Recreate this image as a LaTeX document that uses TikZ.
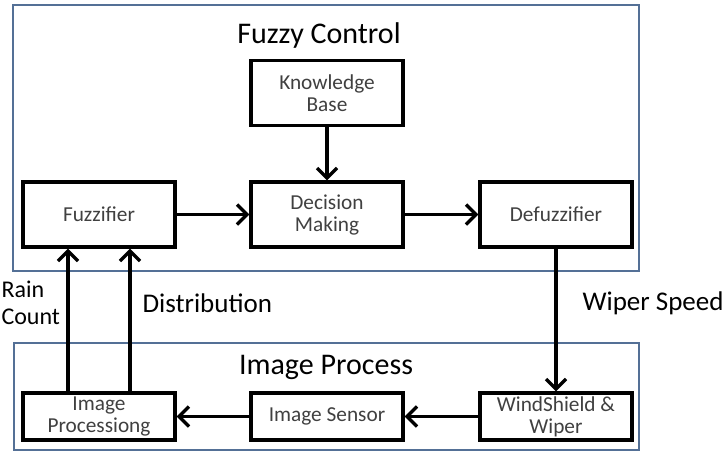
\documentclass[tikz,border=0pt]{standalone}
\usepackage{fontspec}
\setmainfont{Carlito}
\usetikzlibrary{arrows.meta}

\definecolor{framecol}{RGB}{84,112,150}
\definecolor{boxtext}{RGB}{64,64,64}

\begin{document}
\begin{tikzpicture}[x=1pt,y=-1pt,
    block/.style={rectangle,draw,line width=3.2pt,inner sep=0pt,minimum width=152pt,
      align=center,text=boxtext,font=\fontsize{21.3}{22}\selectfont},
    tall/.style={block,minimum height=65pt},
    short/.style={block,minimum height=47pt},
    frame/.style={draw=framecol,line width=2.8pt},
    title/.style={font=\fontsize{30}{32}\selectfont},
    flow/.style={font=\fontsize{27}{27}\selectfont},
    >={Straight Barb[length=10pt,width=20pt]},
    arr/.style={->,line width=3.4pt}]

\useasboundingbox (0,0) rectangle (725,453);

% frames
\draw[frame] (13,5) rectangle (639,271);
\draw[frame] (14,343) rectangle (639,450);
\node[title] (fc) at (319,35) {Fuzzy Control};
\node[title] (ip) at (326,367) {Image Process};

% fuzzy control blocks
\node[tall] (kb)  at (327,93)    {Knowledge\\Base};
\node[tall] (fuz) at (99,214.5)  {Fuzzifier};
\node[tall] (dm)  at (327,214.5) {Decision\\Making};
\node[tall] (def) at (556,214.5) {Defuzzifier};

% image process blocks
\node[short] (proc) at (99,416.5)  {Image\\Processiong};
\node[short] (sens) at (327,416.5) {Image Sensor};
\node[short] (wind) at (556,416.5) {WindShield \&\\Wiper};

% connectors
\draw[arr] (kb) -- (dm);
\draw[arr] (fuz) -- (dm);
\draw[arr] (dm) -- (def);
\draw[arr] (def) -- (wind);
\draw[arr] (wind) -- (sens);
\draw[arr] (sens) -- (proc);
\draw[arr] (proc.north -| 68,0) -- (fuz.south -| 68,0);
\draw[arr] (proc.north -| 130,0) -- (fuz.south -| 130,0);

% signal labels
\node[flow,align=left,anchor=west,font=\fontsize{24}{27}\selectfont] (rain) at (-2,303) {Rain\\Count};
\node[flow,anchor=west] (dist) at (139,303) {Distribution};
\node[flow,anchor=west] (ws) at (579,303) {Wiper Speed};

\end{tikzpicture}
\end{document}
